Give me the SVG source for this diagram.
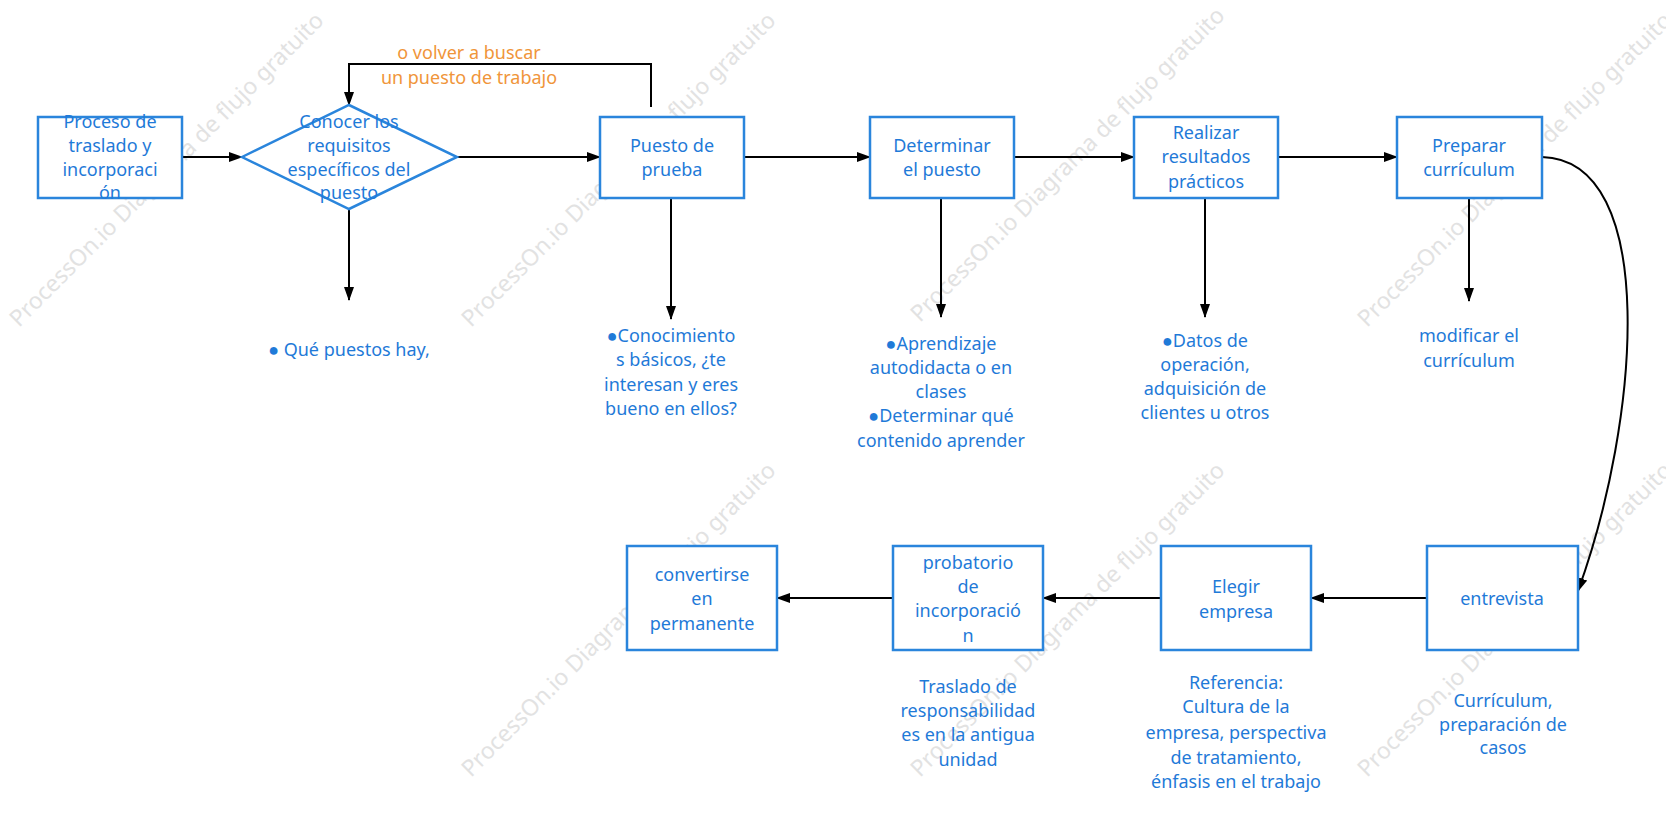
<svg xmlns="http://www.w3.org/2000/svg" width="1666" height="830" viewBox="0 0 1666 830">
<defs>
<marker id="ah" markerWidth="14" markerHeight="10" refX="13" refY="5" orient="auto" markerUnits="userSpaceOnUse"><path d="M0,0 L14,5 L0,10 Z" fill="#000"/></marker>
<style>
.n{fill:#fff;stroke:#2a85dc;stroke-width:2.5}
.t{font-family:"Noto Sans","Open Sans",sans-serif;font-size:18px;fill:#1f7ad8;text-anchor:middle}
.o{fill:#f0953a}
.c{fill:none;stroke:#000;stroke-width:2;marker-end:url(#ah)}
.w{font-family:"Noto Sans",sans-serif;font-size:23px;fill:#e2e2e2;text-anchor:middle}
</style>
</defs>
<rect width="1666" height="830" fill="#fff"/>
<g id="watermarks">
<text class="w" transform="translate(172,175) rotate(-45)">ProcessOn.io Diagrama de flujo gratuito</text>
<text class="w" transform="translate(624,175) rotate(-45)">ProcessOn.io Diagrama de flujo gratuito</text>
<text class="w" transform="translate(1073,170) rotate(-45)">ProcessOn.io Diagrama de flujo gratuito</text>
<text class="w" transform="translate(1520,175) rotate(-45)">ProcessOn.io Diagrama de flujo gratuito</text>
<text class="w" transform="translate(624,625) rotate(-45)">ProcessOn.io Diagrama de flujo gratuito</text>
<text class="w" transform="translate(1073,625) rotate(-45)">ProcessOn.io Diagrama de flujo gratuito</text>
<text class="w" transform="translate(1520,625) rotate(-45)">ProcessOn.io Diagrama de flujo gratuito</text>
</g>
<g id="connectors">
<path class="c" d="M182,157 H242"/>
<path class="c" d="M457,157 H600"/>
<path class="c" d="M744,157 H870"/>
<path class="c" d="M1014,157 H1134"/>
<path class="c" d="M1278,157 H1397"/>
<path class="c" d="M349,209 V300"/>
<path class="c" d="M671,198 V319"/>
<path class="c" d="M941,198 V317"/>
<path class="c" d="M1205,198 V317"/>
<path class="c" d="M1469,198 V301"/>
<path class="c" d="M651,107 V64 H349 V105"/>
<path class="c" d="M1542,157 C1660,160 1640,420 1578,591"/>
<path class="c" d="M1427,598 H1311"/>
<path class="c" d="M1161,598 H1043"/>
<path class="c" d="M893,598 H777"/>
</g>
<g id="loop-label"><text class="t o" x="469" y="59">o volver a buscar</text><text class="t o" x="469" y="84">un puesto de trabajo</text></g>
<g id="n1"><rect class="n" x="38" y="117" width="144" height="81"/><text class="t" x="110" y="128">Proceso de</text><text class="t" x="110" y="152">traslado y</text><text class="t" x="110" y="176">incorporaci</text><text class="t" x="110" y="199">ón</text></g>
<g id="n2"><polygon class="n" points="242,157 349,105 457,157 349,209"/><text class="t" x="349" y="128">Conocer los</text><text class="t" x="349" y="152">requisitos</text><text class="t" x="349" y="176">específicos del</text><text class="t" x="349" y="199">puesto</text></g>
<g id="n3"><rect class="n" x="600" y="117" width="144" height="81"/><text class="t" x="672" y="152">Puesto de</text><text class="t" x="672" y="176">prueba</text></g>
<g id="n4"><rect class="n" x="870" y="117" width="144" height="81"/><text class="t" x="942" y="152">Determinar</text><text class="t" x="942" y="176">el puesto</text></g>
<g id="n5"><rect class="n" x="1134" y="117" width="144" height="81"/><text class="t" x="1206" y="139">Realizar</text><text class="t" x="1206" y="163">resultados</text><text class="t" x="1206" y="188">prácticos</text></g>
<g id="n6"><rect class="n" x="1397" y="117" width="145" height="81"/><text class="t" x="1469" y="152">Preparar</text><text class="t" x="1469" y="176">currículum</text></g>
<g id="l2"><text class="t" x="349" y="356">● Qué puestos hay,</text></g>
<g id="l3"><text class="t" x="671" y="342">●Conocimiento</text><text class="t" x="671" y="366">s básicos, ¿te</text><text class="t" x="671" y="391">interesan y eres</text><text class="t" x="671" y="415">bueno en ellos?</text></g>
<g id="l4"><text class="t" x="941" y="350">●Aprendizaje</text><text class="t" x="941" y="374">autodidacta o en</text><text class="t" x="941" y="398">clases</text><text class="t" x="941" y="422">●Determinar qué</text><text class="t" x="941" y="447">contenido aprender</text></g>
<g id="l5"><text class="t" x="1205" y="347">●Datos de</text><text class="t" x="1205" y="371">operación,</text><text class="t" x="1205" y="395">adquisición de</text><text class="t" x="1205" y="419">clientes u otros</text></g>
<g id="l6"><text class="t" x="1469" y="342">modificar el</text><text class="t" x="1469" y="367">currículum</text></g>
<g id="n7"><rect class="n" x="1427" y="546" width="151" height="104"/><text class="t" x="1502" y="605">entrevista</text></g>
<g id="n8"><rect class="n" x="1161" y="546" width="150" height="104"/><text class="t" x="1236" y="593">Elegir</text><text class="t" x="1236" y="618">empresa</text></g>
<g id="n9"><rect class="n" x="893" y="546" width="150" height="104"/><text class="t" x="968" y="569">probatorio</text><text class="t" x="968" y="593">de</text><text class="t" x="968" y="617">incorporació</text><text class="t" x="968" y="642">n</text></g>
<g id="n10"><rect class="n" x="627" y="546" width="150" height="104"/><text class="t" x="702" y="581">convertirse</text><text class="t" x="702" y="605">en</text><text class="t" x="702" y="630">permanente</text></g>
<g id="l7"><text class="t" x="1503" y="707">Currículum,</text><text class="t" x="1503" y="731">preparación de</text><text class="t" x="1503" y="754">casos</text></g>
<g id="l8"><text class="t" x="1236" y="689">Referencia:</text><text class="t" x="1236" y="713">Cultura de la</text><text class="t" x="1236" y="739">empresa, perspectiva</text><text class="t" x="1236" y="764">de tratamiento,</text><text class="t" x="1236" y="788">énfasis en el trabajo</text></g>
<g id="l9"><text class="t" x="968" y="693">Traslado de</text><text class="t" x="968" y="717">responsabilidad</text><text class="t" x="968" y="741">es en la antigua</text><text class="t" x="968" y="766">unidad</text></g>
</svg>
